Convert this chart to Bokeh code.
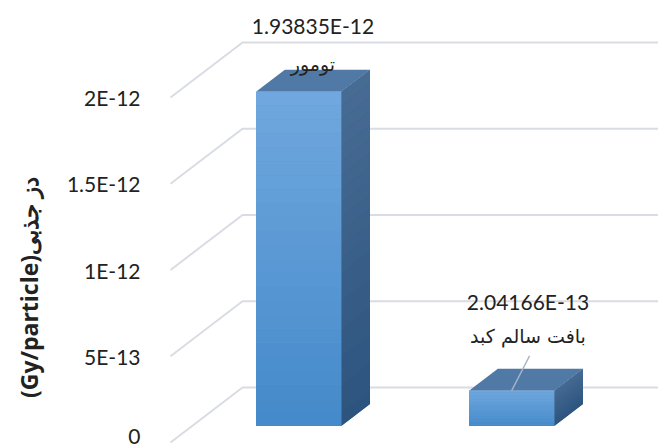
import numpy as np
from bokeh.plotting import figure
from bokeh.layouts import row
from bokeh.models import FixedTicker, Label, Range1d
from bokeh.core.properties import value
from bokeh.embed import file_html
from bokeh.resources import INLINE

# ---------------- data ----------------
categories = ["تومور", "بافت سالم کبد"]
doses = [1.93835e-12, 2.04166e-13]
value_labels = ["1.93835E-12", "2.04166E-13"]
y_ticks = [0, 5e-13, 1e-12, 1.5e-12, 2e-12]
y_tick_labels = ["0", "5E-13", "1E-12", "1.5E-12", "2E-12"]
y_title = "(Gy/particle)دز جذبی"

# ---------------- layout constants ----------------
TOTAL_W, H = 658, 447
TW = 60                       # width of the y-title strip
W = TOTAL_W - TW
LEFT = 150 - TW               # frame starts at page x = 150
PX_X = 1 / 213.0              # category units per pixel
PX_Y = 1e-12 / 172.5          # dose units per pixel
X_START = -20 * PX_X
X_END = X_START + (W - LEFT) * PX_X
Y_START = -5 * PX_Y
Y_END = Y_START + H * PX_Y
DX = 72 * PX_X                # depth offset of the 3D box
DY = 55 * PX_Y
BAR_W = 0.4
D_FRONT, D_BACK = 0.3, 0.7

# label offsets (pixels): (dx, dy up) for value label and category label
val_off = [(0, 55), (2, 78)]
cat_off = [(0, 17), (2, 44)]

FONT = "Lato"
AR_FONT = "DejaVu Sans"
TXT = "#222222"
GRID = "#D9DCE3"

p = figure(width=W, height=H, output_backend="svg", toolbar_location=None,
           x_range=Range1d(X_START, X_END), y_range=Range1d(Y_START, Y_END),
           min_border_left=LEFT, min_border_right=0, min_border_top=0,
           min_border_bottom=0, x_axis_location=None)
p.outline_line_color = None
p.grid.visible = False
p.background_fill_color = "white"
p.border_fill_color = "white"

# y axis (front plane)
ya = p.yaxis[0]
ya.ticker = FixedTicker(ticks=y_ticks)
ya.major_label_overrides = {t: l for t, l in zip(y_ticks, y_tick_labels)}
ya.axis_line_color = None
ya.major_tick_line_color = None
ya.minor_tick_line_color = None
ya.major_label_standoff = 4
ya.major_label_text_font = FONT
ya.major_label_text_font_size = "21px"
ya.major_label_text_color = TXT

# gridlines: diagonal on side wall + horizontal on back wall
xs, ys = [], []
for t in y_ticks:
    xs.append([0, DX, X_END + 1])
    ys.append([t, t + DY, t + DY])
p.multi_line(xs, ys, line_color=GRID, line_width=2)


def lerp(c1, c2, f):
    return "#%02x%02x%02x" % tuple(int(round(a + (b - a) * f)) for a, b in zip(c1, c2))


FRONT_TOP, FRONT_BOT = (112, 168, 222), (68, 137, 202)
SIDE_TOP, SIDE_BOT = (72, 108, 148), (44, 84, 126)
TOP_C = "#5079A6"
N = 24

for i, v in enumerate(doses):
    xc = i + 0.5
    xl = xc - BAR_W / 2 + D_FRONT * DX
    xr = xc + BAR_W / 2 + D_FRONT * DX
    yb = D_FRONT * DY
    yt = v + D_FRONT * DY
    ddx = (D_BACK - D_FRONT) * DX
    ddy = (D_BACK - D_FRONT) * DY
    edges = np.linspace(yb, yt, N + 1)
    cols_f = [lerp(FRONT_BOT, FRONT_TOP, (k + 0.5) / N) for k in range(N)]
    cols_s = [lerp(SIDE_BOT, SIDE_TOP, (k + 0.5) / N) for k in range(N)]
    # side face: solid base then gradient bands
    side_mid = lerp(SIDE_BOT, SIDE_TOP, 0.5)
    p.patch([xr, xr, xr + ddx, xr + ddx], [yb, yt, yt + ddy, yb + ddy],
            fill_color=side_mid, line_color=None)
    sx, sy = [], []
    for k in range(N):
        sx.append([xr, xr, xr + ddx, xr + ddx])
        sy.append([edges[k], edges[k + 1], edges[k + 1] + ddy, edges[k] + ddy])
    p.patches(sx, sy, fill_color=cols_s, line_color=None)
    # top face
    p.patch([xl, xr, xr + ddx, xl + ddx], [yt, yt, yt + ddy, yt + ddy],
            fill_color=TOP_C, line_color=None)
    # front face: solid base then gradient bands
    front_mid = lerp(FRONT_BOT, FRONT_TOP, 0.5)
    p.quad(left=[xl], right=[xr], bottom=[yb], top=[yt],
           fill_color=front_mid, line_color=None)
    p.quad(left=[xl] * N, right=[xr] * N, bottom=edges[:-1], top=edges[1:],
           fill_color=cols_f, line_color=None)

    ax = xc + 0.5 * DX
    ay = v + 0.5 * DY
    p.text(x=[ax + val_off[i][0] * PX_X], y=[ay + val_off[i][1] * PX_Y], text=[value_labels[i]],
           text_font=value(FONT), text_font_size=value("21px"), text_color=TXT,
           text_align="center", text_baseline="middle")
    p.text(x=[ax + cat_off[i][0] * PX_X], y=[ay + cat_off[i][1] * PX_Y], text=[categories[i]],
           text_font=value(AR_FONT), text_font_size=value("19px"), text_color=TXT,
           text_align="center", text_baseline="middle")

# leader line for second label
v2 = doses[1]
lx = 1.5 + D_FRONT * DX
ly = v2 + D_FRONT * DY
p.segment(x0=[lx], y0=[ly], x1=[lx + 18 * PX_X], y1=[ly + 35 * PX_Y],
          line_color="#A6B4C8", line_width=1.5)

# y-axis title strip
t = figure(width=TW, height=H, output_backend="svg", toolbar_location=None,
           x_range=Range1d(0, TW), y_range=Range1d(0, H),
           min_border_left=0, min_border_right=0, min_border_top=0,
           min_border_bottom=0, x_axis_location=None, y_axis_location=None)
t.outline_line_color = None
t.grid.visible = False
t.add_layout(Label(x=28, y=H - 287, text=y_title, angle=np.pi / 2,
                   text_align="center", text_baseline="middle",
                   text_font="Open Sans", text_font_style="bold", text_font_size="23px",
                   text_color=TXT))

layout = row(t, p)
open("out.html", "w").write(file_html(layout, INLINE))
